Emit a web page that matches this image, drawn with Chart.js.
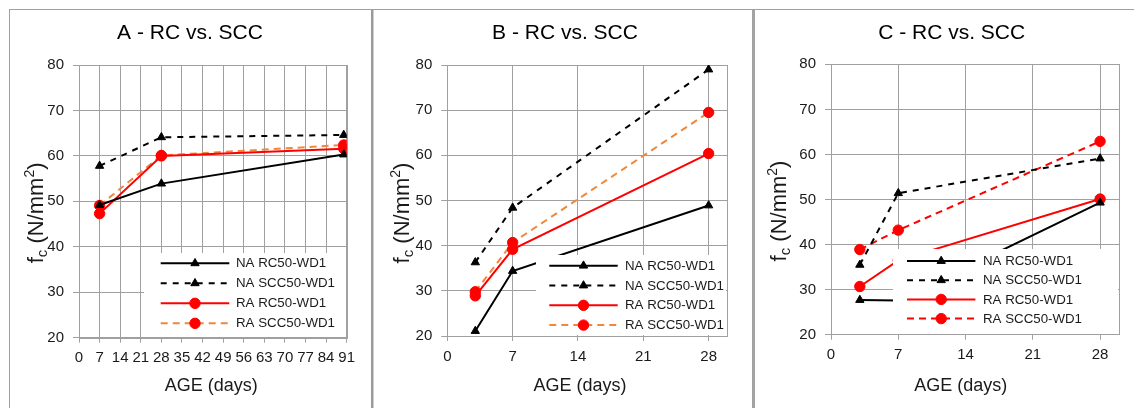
<!DOCTYPE html>
<html><head><meta charset="utf-8">
<script src="https://cdn.jsdelivr.net/npm/chart.js@4.4.1/dist/chart.umd.min.js"></script>
<style>
html,body{margin:0;padding:0;background:#fff;overflow:hidden;width:1134px;height:408px;position:relative}
.ln{position:absolute}
.panel{position:absolute;top:10px;height:398px}
canvas{display:block}
</style></head><body>
<div class="ln" style="left:9px;top:9px;width:1125px;height:1px;background:#a0a0a0"></div>
<div class="ln" style="left:9px;top:9px;width:1px;height:399px;background:#a0a0a0"></div>
<div class="ln" style="left:371px;top:10px;width:2px;height:398px;background:#9a9a9a"></div>
<div class="ln" style="left:373px;top:10px;width:1px;height:398px;background:#cfcfcf"></div>
<div class="ln" style="left:752px;top:10px;width:3px;height:398px;background:#a3a3a3"></div>
<div class="panel" style="left:10px;width:361px"><canvas id="cA" width="361" height="398"></canvas></div>
<div class="panel" style="left:374px;width:378px"><canvas id="cB" width="378" height="398"></canvas></div>
<div class="panel" style="left:755px;width:379px"><canvas id="cC" width="379" height="398"></canvas></div>
<script>
// ---------- DATA ----------
const seriesNames = ['NA RC50-WD1', 'NA SCC50-WD1', 'RA RC50-WD1', 'RA SCC50-WD1'];
const panelTitles = ['A - RC vs. SCC', 'B - RC vs. SCC', 'C - RC vs. SCC'];
const xAxisTitle = 'AGE (days)';
const agesA = [7, 28, 90];
const agesBC = [3, 7, 28];
const A_naRC  = [49.2, 53.9, 60.3];
const A_naSCC = [57.8, 64.1, 64.6];
const A_raRC  = [47.3, 60.0, 61.6];
const A_raSCC = [49.1, 60.1, 62.4];
const B_naRC  = [21.1, 34.4, 48.9];
const B_naSCC = [36.3, 48.4, 79.0];
const B_raRC  = [28.9, 39.2, 60.4];
const B_raSCC = [29.8, 40.7, 69.5];
const C_naRC  = [27.7, 27.6, 49.3];
const C_naSCC = [35.5, 51.4, 59.1];
const C_raRC  = [30.7, 36.5, 50.1];
const C_raSCC = [38.9, 43.2, 62.9];
const yMin = 20, yMax = 80, yStep = 10;
const xStep = 7;
const xMaxA = 91, xMaxBC = 30;

// ---------- STYLE ----------
const FONT = "'Liberation Sans', Arial, sans-serif";
Chart.defaults.font.family = FONT;
Chart.defaults.color = '#1a1a1a';
const GRID = '#a0a0a0';
const ORANGE = '#F0883C';
function seriesStyles(raSccLine) {
  return [
    {line: '#000000', dash: [], point: 'triangle', r: 4.8, pc: '#000000'},
    {line: '#000000', dash: [6, 6], point: 'triangle', r: 4.8, pc: '#000000'},
    {line: '#FF0000', dash: [], point: 'circle', r: 5.2, pc: '#FF0000'},
    {line: raSccLine, dash: [7, 5], point: 'circle', r: 5.2, pc: '#FF0000'}
  ];
}

function drawMarker(ctx, style, x, y, r, color) {
  ctx.fillStyle = color; ctx.strokeStyle = color; ctx.lineWidth = 1; ctx.setLineDash([]);
  ctx.beginPath();
  if (style === 'triangle') {
    let rad = 0;
    ctx.moveTo(x + Math.sin(rad) * r, y - Math.cos(rad) * r);
    rad += 2 * Math.PI / 3;
    ctx.lineTo(x + Math.sin(rad) * r, y - Math.cos(rad) * r);
    rad += 2 * Math.PI / 3;
    ctx.lineTo(x + Math.sin(rad) * r, y - Math.cos(rad) * r);
    ctx.closePath();
  } else {
    ctx.arc(x, y, r, 0, Math.PI * 2);
  }
  ctx.fill(); ctx.stroke();
}

const framePlugin = {
  id: 'frame',
  beforeDatasetsDraw(chart) {
    const {ctx, chartArea: a} = chart;
    ctx.save();
    ctx.strokeStyle = GRID; ctx.lineWidth = 1;
    ctx.strokeRect(Math.round(a.left) + 0.5, Math.round(a.top) + 0.5, Math.round(a.right - a.left), Math.round(a.bottom - a.top));
    ctx.restore();
  }
};

const insideLegend = {
  id: 'insideLegend',
  afterDatasetsDraw(chart, args, o) {
    const {ctx, chartArea: a} = chart;
    const left = Math.round(a.right - o.w), top = Math.round(a.bottom - o.h);
    ctx.save();
    ctx.fillStyle = '#ffffff';
    ctx.fillRect(left, top, Math.round(a.right) - left - 1, Math.round(a.bottom) - top - 1);
    chart.data.datasets.forEach((ds, i) => {
      const y = top + o.row0 + i * o.step;
      ctx.strokeStyle = ds.borderColor; ctx.lineWidth = ds.borderWidth;
      ctx.setLineDash(ds.borderDash || []);
      ctx.beginPath(); ctx.moveTo(left + o.lineX, y); ctx.lineTo(left + o.lineX + o.lineLen, y); ctx.stroke();
      drawMarker(ctx, ds.pointStyle, left + o.lineX + o.lineLen / 2, y, ds.pointRadius, ds.pointBackgroundColor);
      ctx.fillStyle = '#1a1a1a';
      ctx.font = '13.3px ' + FONT;
      ctx.textBaseline = 'middle'; ctx.textAlign = 'left';
      ctx.fillText(ds.label, left + o.textX, y + 0.5);
    });
    ctx.restore();
  }
};

const axisTitles = {
  id: 'axisTitles',
  afterDraw(chart, args, o) {
    const {ctx, chartArea: a} = chart;
    ctx.save();
    ctx.fillStyle = '#1a1a1a';
    // x title
    ctx.font = '18px ' + FONT;
    ctx.textAlign = 'center'; ctx.textBaseline = 'middle';
    ctx.fillText(o.xText, (a.left + a.right) / 2 + o.xDx, o.xY);
    // y title with subscript / superscript
    const parts = [
      {t: 'f', s: 22, dy: 0},
      {t: 'c', s: 15, dy: 4},
      {t: ' (N/mm', s: 22, dy: 0},
      {t: '2', s: 14, dy: -9},
      {t: ')', s: 22, dy: 0}
    ];
    let total = 0;
    parts.forEach(p => { ctx.font = p.s + 'px ' + FONT; p.w = ctx.measureText(p.t).width; total += p.w; });
    ctx.translate(a.left - o.yOff, (a.top + a.bottom) / 2 + o.yShift);
    ctx.rotate(-Math.PI / 2);
    ctx.textAlign = 'left'; ctx.textBaseline = 'alphabetic';
    let x = -total / 2;
    parts.forEach(p => { ctx.font = p.s + 'px ' + FONT; ctx.fillText(p.t, x, 8 + p.dy); x += p.w; });
    ctx.restore();
  }
};

function makeSeries(ages, arrs, styles) {
  return arrs.map((vals, i) => ({
    label: seriesNames[i],
    data: ages.map((d, k) => ({x: d, y: vals[k]})),
    borderColor: styles[i].line,
    borderWidth: 2,
    borderDash: styles[i].dash,
    pointStyle: styles[i].point,
    pointRadius: styles[i].r,
    pointBackgroundColor: styles[i].pc,
    pointBorderColor: styles[i].pc,
    pointBorderWidth: 1,
    tension: 0,
    fill: false
  }));
}

function build(id, cfg) {
  const H = 398;
  new Chart(document.getElementById(id), {
    type: 'line',
    data: {datasets: cfg.datasets},
    plugins: [framePlugin, insideLegend, axisTitles],
    options: {
      responsive: false, animation: false, devicePixelRatio: 1,
      layout: {padding: {left: cfg.padL, right: cfg.padR, top: 0, bottom: 0}},
      plugins: {
        legend: {display: false}, tooltip: {enabled: false},
        title: {display: true, text: cfg.title, color: '#000', font: {size: 21, weight: 'normal', lineHeight: 1.2},
                padding: {top: 10.4, bottom: cfg.titleBottom}},
        insideLegend: cfg.legend,
        axisTitles: {xText: xAxisTitle, xDx: cfg.xDx, xY: 376, yOff: cfg.yOff, yShift: cfg.yShift}
      },
      scales: {
        x: {
          type: 'linear', min: 0, max: cfg.xMax,
          ticks: {stepSize: xStep, autoSkip: false, maxRotation: 0, includeBounds: false, padding: 6.5,
                  font: {size: 15}, color: '#1a1a1a'},
          grid: {color: GRID, tickLength: 5, drawTicks: true},
          border: {color: GRID},
          afterFit(s) { s.height = H - cfg.bottom; }
        },
        y: {
          min: yMin, max: yMax,
          ticks: {stepSize: yStep, padding: 9, font: {size: 15}, color: '#1a1a1a'},
          grid: {color: GRID, tickLength: 6},
          border: {color: GRID},
          afterFit(s) { s.width = cfg.yW; }
        }
      }
    }
  });
}

build('cA', {
  title: panelTitles[0], xMax: xMaxA,
  datasets: makeSeries(agesA, [A_naRC, A_naSCC, A_raRC, A_raSCC], seriesStyles(ORANGE)),
  padL: 23.3, padR: 24.3, yW: 45.7, bottom: 327.7, titleBottom: 19.4,
  xDx: -1.6, yOff: 44, yShift: 11.5,
  legend: {w: 202.7, h: 84.7, lineX: 16.7, lineLen: 68.6, textX: 92, row0: 10.3, step: 20}
});
build('cB', {
  title: panelTitles[1], xMax: xMaxBC,
  datasets: makeSeries(agesBC, [B_naRC, B_naSCC, B_raRC, B_raSCC], seriesStyles(ORANGE)),
  padL: 28.7, padR: 24.7, yW: 44.6, bottom: 326, titleBottom: 19.4,
  xDx: -7.3, yOff: 46.6, yShift: 12.5,
  legend: {w: 191.3, h: 81, lineX: 13.3, lineLen: 68.4, textX: 89, row0: 10.7, step: 19.8}
});
build('cC', {
  title: panelTitles[2], xMax: xMaxBC,
  datasets: makeSeries(agesBC, [C_naRC, C_naSCC, C_raRC, C_raSCC], seriesStyles('#FF0000')),
  padL: 29, padR: 14.7, yW: 47, bottom: 324.7, titleBottom: 18.7,
  xDx: -14.5, yOff: 52.7, yShift: 11.5,
  legend: {w: 226, h: 85.7, lineX: 14, lineLen: 68.4, textX: 90, row0: 12, step: 19.2}
});
</script>
</body></html>
